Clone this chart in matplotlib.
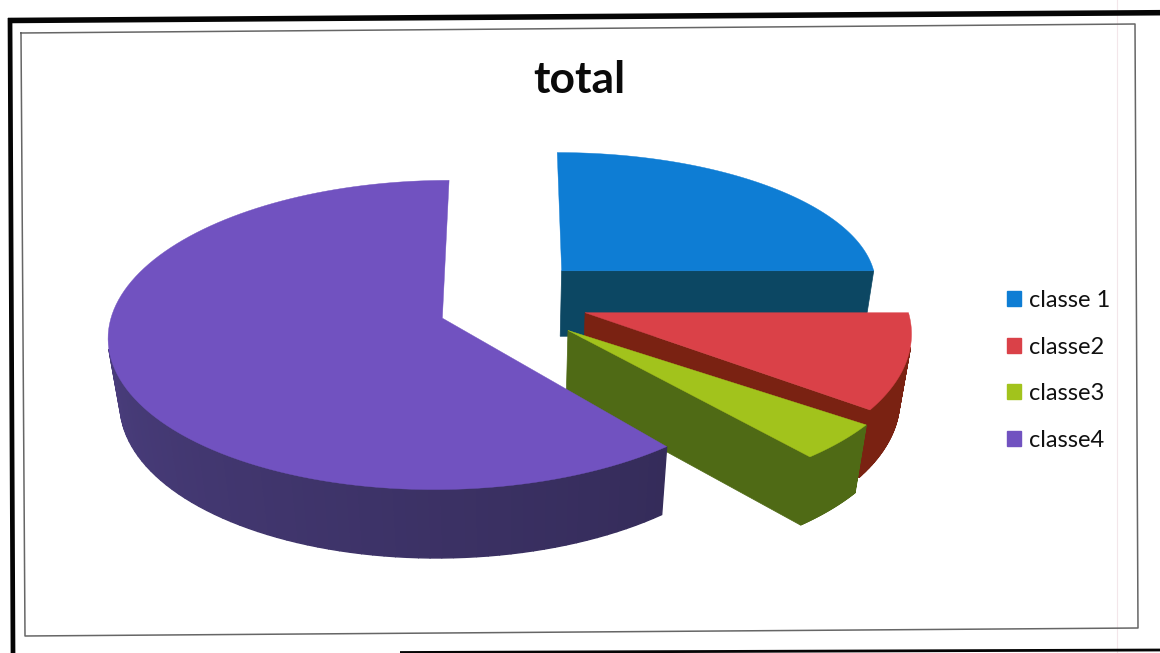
import numpy as np
import matplotlib
matplotlib.use('Agg')
from matplotlib import pyplot as plt
from matplotlib.patches import Polygon, Patch

labels = ['classe 1', 'classe2', 'classe3', 'classe4']
values = [25, 10, 4, 61]

top_colors = ['#0e7dd4', '#da4148', '#a2c31c', '#7152c0']
side_colors = ['#0c4763', '#7a2212', '#4f6a15', '#5a4b98']
wall_colors = ['#0c4763', '#7a2212', '#4f6a15', '#352c5a']

# projection of the tilted pie
cx, cy = 511, 305
rx, ry = 335, 153
depth = 68
tilt = 0.11
squeeze = 0.03

# how far each slice is pulled out, and its radius across / along the view
offsets = [(0.155, -0.229), (0.22, 0.05), (0.167, 0.163), (-0.203, 0.085)]
radii = [(0.955, 0.89), (0.96, 1.0), (1.0, 0.95), (0.98, 0.98)]


def project(u, v, d):
    s = 1 / (1 - tilt * v + squeeze * d)
    return cx + rx * u * s, cy + (ry * v + depth * d) * s


def face_area(pts):
    # screen y points down, so a positive area is a face turned to the viewer
    x, y = np.array(pts).T
    return np.sum(x * np.roll(y, -1) - np.roll(x, -1) * y) / 2


def shade(a, b, t):
    a, b = np.array(matplotlib.colors.to_rgb(a)), np.array(matplotlib.colors.to_rgb(b))
    return a + (b - a) * t


fig = plt.figure(figsize=(11.6, 6.53), dpi=100)
ax = fig.add_axes([0, 0, 1, 1])
ax.set_xlim(0, 1160)
ax.set_ylim(653, 0)
ax.axis('off')

# scanned page frames
ax.plot([1117, 1117], [0, 653], color='#f3e6ea', lw=0.8)
ax.plot([8, 1160], [20.5, 12.7], color='#050505', lw=4, solid_capstyle='butt')
ax.plot([10, 13], [18, 653], color='#050505', lw=3.4, solid_capstyle='butt')
ax.plot([400, 1160], [652.5, 650], color='#050505', lw=2, solid_capstyle='butt')
ax.plot([21, 1135, 1138, 25, 21], [33, 24, 628, 636, 33], color='#666666', lw=1.1)

angles = np.cumsum([0] + values) / sum(values) * 2 * np.pi

for i in range(len(values)):
    a0, a1 = angles[i], angles[i + 1]
    ou, ov = offsets[i]
    ru, rv = radii[i]
    th = np.linspace(a0, a1, 120)
    us = ou + ru * np.sin(th)
    vs = ov - rv * np.cos(th)

    # straight cut wall at the end of the slice, skipped when seen edge-on or from behind
    pts = [project(ou, ov, 0), project(us[-1], vs[-1], 0), project(us[-1], vs[-1], 1), project(ou, ov, 1)]
    if face_area(pts) > 2000:
        ax.add_patch(Polygon(pts, closed=True, fc=wall_colors[i], ec=wall_colors[i], lw=0.5))

    # rim, the big slice gets darker toward the right
    for j in range(len(th) - 1):
        pts = [project(us[j], vs[j], 0), project(us[j + 1], vs[j + 1], 0),
               project(us[j + 1], vs[j + 1], 1), project(us[j], vs[j], 1)]
        if face_area(pts[::-1]) > 0:
            t = (th[j] - a0) / (a1 - a0)
            col = shade(side_colors[i], wall_colors[i], 1 - t)
            ax.add_patch(Polygon(pts, closed=True, fc=col, ec=col, lw=1))

    top = [project(ou, ov, 0)] + [project(u, v, 0) for u, v in zip(us, vs)]
    ax.add_patch(Polygon(top, closed=True, fc=top_colors[i], ec=top_colors[i], lw=0.3))

ax.text(579, 80, 'total', family='Lato', fontweight='bold', fontsize=32, ha='center', va='center', color='#0a0a0a')

handles = [Patch(fc=c, ec=c) for c in top_colors]
ax.legend(handles, labels, loc='center left', bbox_to_anchor=(986 / 1160, 1 - 370.5 / 653), frameon=False,
          prop={'family': 'Lato', 'size': 17}, handlelength=0.6, handleheight=0.6, handletextpad=0.33,
          labelspacing=1.08, labelcolor='#111111')

fig.savefig('out.png', dpi=100)
